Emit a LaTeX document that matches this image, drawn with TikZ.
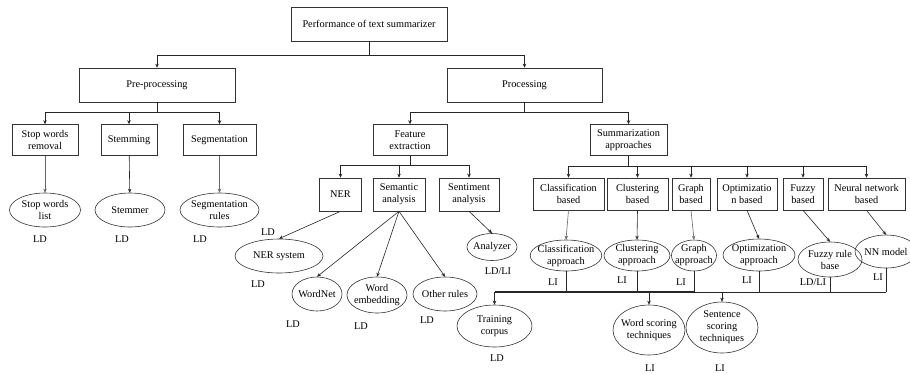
\documentclass[tikz,border=0pt]{standalone}
\usepackage{fontspec}
\setmainfont{Liberation Serif}
\usetikzlibrary{arrows.meta,shapes.geometric}
\tikzset{
  every node/.style={font=\fontsize{10.3}{12}\selectfont, align=center},
  box/.style={draw=black!80, rectangle, inner xsep=3pt, inner ysep=1pt, minimum height=31pt},
  oval/.style={draw=black!80, ellipse, inner xsep=-3pt, inner ysep=0pt},
  lbl/.style={inner sep=0pt},
  arr/.style={-{Stealth[length=4pt,width=3.5pt]}},
  bus/.style={line width=0.6pt, draw=black!85},
}
\begin{document}
\begin{tikzpicture}[x=1pt,y=-1pt, line width=0.6pt, draw=black!85]
				%%%%% START %%%%%
				\useasboundingbox (0,0) rectangle (910,373);
				
				% top levels
				\node[box, minimum width=156pt, minimum height=34pt] (root) at (369,24) {Performance of text summarizer};
				\node[box, minimum width=156pt, minimum height=34pt] (pre) at (157,85) {Pre-processing};
				\node[box, minimum width=155pt, minimum height=34pt] (proc) at (524.5,85) {Processing};
				
				\coordinate (b0) at (369,55);
				\draw (root) -- (b0);
				\draw[arr] (b0) -| (pre);
				\draw[arr] (b0) -| (proc);
				
				% pre-processing
				\node[box, minimum width=66pt] (stopw) at (45,140) {Stop words\\removal};
				\node[box, minimum width=56pt] (stem) at (129,140) {Stemming};
				\node[box, minimum width=73pt] (segm) at (219.5,140) {Segmentation};
				
				\coordinate (b1) at (157,112);
				\draw (pre) -- (b1);
				\draw[arr] (b1) -| (stopw);
				\draw[arr] (b1) -| (stem);
				\draw[arr] (b1) -| (segm);
				
				\node[oval, minimum width=71pt, minimum height=34pt] (stopl) at (45,210) {Stop words\\list};
				\node[oval, minimum width=70pt, minimum height=34pt] (stemr) at (130,210) {Stemmer};
				\node[oval, minimum width=79pt, minimum height=34pt] (segr) at (219.5,210) {Segmentation\\rules};
				\draw[arr, draw=black!60] (stopw) -- (stopl);
				\draw[arr] (stem) -- (stemr);
				\draw[arr, draw=black!60] (segm) -- (segr);
				
				\node[lbl] (ldstop) at (40,239) {LD};
				\node[lbl] (ldstem) at (122,239) {LD};
				\node[lbl] (ldseg) at (200,239) {LD};
				
				% processing
				\node[box, minimum width=74pt] (feat) at (410,140) {Feature\\extraction};
				\node[box, minimum width=77pt] (summ) at (628.5,140) {Summarization\\approaches};
				
				\coordinate (b2) at (524.5,112);
				\draw (proc) -- (b2);
				\draw[arr] (b2) -| (feat);
				\draw[arr] (b2) -| (summ);
				
				% feature extraction
				\node[box, minimum width=42pt, minimum height=33pt] (ner) at (340.5,194.5) {NER};
				\node[box, minimum width=52pt, minimum height=33pt] (sem) at (399,194.5) {Semantic\\analysis};
				\node[box, minimum width=60pt, minimum height=33pt] (sent) at (469,194.5) {Sentiment\\analysis};
				
				\coordinate (b3) at (410,165);
				\draw (feat) -- (b3);
				\draw[arr] (b3) -| (ner);
				\draw[arr] (b3) -| (sem);
				\draw[arr] (b3) -| (sent);
				
				\node[oval, minimum width=88pt, minimum height=34pt] (nersys) at (279,256) {NER system};
				\node[oval, minimum width=50pt, minimum height=34pt] (wnet) at (317,294) {WordNet};
				\node[oval, minimum width=60pt, minimum height=36pt] (wemb) at (377,295) {Word\\embedding};
				\node[oval, minimum width=64pt, minimum height=34pt] (othr) at (445,294) {Other rules};
				\node[oval, minimum width=50pt, minimum height=27pt] (anlz) at (492,247) {Analyzer};
				
				\draw[arr] (ner.south) -- (nersys.north);
				\draw[arr] (sem.south) -- (wnet.north);
				\draw[arr] (sem.south) -- (wemb.north);
				\draw[arr] (sem.south) -- (othr.north);
				\draw[arr] (sent.south) -- (anlz.north);
				
				\node[lbl] (ldner1) at (268,232) {LD};
				\node[lbl] (ldner2) at (258,284) {LD};
				\node[lbl] (ldwnet) at (293,324) {LD};
				\node[lbl] (ldwemb) at (361,326) {LD};
				\node[lbl] (ldothr) at (427,320) {LD};
				\node[lbl] (ldanlz) at (498,271) {LD/LI};
				
				% summarization approaches
				\node[box, minimum width=71pt, minimum height=32pt] (cls) at (568.5,194) {Classification\\based};
				\node[box, minimum width=61pt, minimum height=32pt] (clu) at (637.5,194) {Clustering\\based};
				\node[box, minimum width=38pt, minimum height=32pt] (grb) at (691,194) {Graph\\based};
				\node[box, minimum width=60pt, minimum height=32pt] (opt) at (747,194) {Optimizatio\\n based};
				\node[box, minimum width=40pt, minimum height=32pt] (fuz) at (803,194) {Fuzzy\\based};
				\node[box, minimum width=77pt, minimum height=32pt] (nnb) at (866.5,194) {Neural network\\based};
				
				\coordinate (b4) at (628.5,166);
				\draw (summ) -- (b4);
				\foreach \n in {cls,clu,grb,opt,fuz,nnb}
					\draw[arr] (b4) -| (\n);
				
				\node[oval, minimum width=66pt, minimum height=31pt] (clsap) at (566,255.5) {Classification\\approach};
				\node[oval, minimum width=66pt, minimum height=31pt] (cluap) at (637,255.5) {Clustering\\approach};
				\node[oval, minimum width=45pt, minimum height=31pt] (grap) at (694,255.5) {Graph\\approach};
				\node[oval, minimum width=72pt, minimum height=32pt] (optap) at (759,255) {Optimization\\approach};
				\node[oval, minimum width=64pt, minimum height=35pt] (fuzr) at (830,259.5) {Fuzzy rule\\base};
				\node[oval, minimum width=62pt, minimum height=33pt] (nnm) at (886,251.5) {NN model};
				
				\draw[arr, draw=black!60] (cls.south) -- (clsap.north);
				\draw[arr] (clu.south) -- (cluap.north);
				\draw[arr, draw=black!60] (grb.south) -- (grap.north);
				\draw[arr] (opt.south) -- (optap.north);
				\draw[arr] (fuz.south) -- (fuzr.north);
				\draw[arr] (nnb.south) -- (nnm.north);
				
				\node[lbl] (liclsap) at (553,282) {LI};
				\node[lbl] (licluap) at (622,280) {LI};
				\node[lbl] (ligrap) at (681,282) {LI};
				\node[lbl] (lioptap) at (747,280) {LI};
				\node[lbl] (lifuzr) at (813,282) {LD/LI};
				\node[lbl] (linnm) at (878,277) {LI};
				
				% shared resources
				\node[oval, minimum width=75pt, minimum height=42pt] (train) at (494.5,326) {Training\\corpus};
				\node[oval, minimum width=72pt, minimum height=50pt] (wscr) at (649,330) {Word scoring\\techniques};
				\node[oval, minimum width=72pt, minimum height=51pt] (sscr) at (722,327.5) {Sentence\\scoring\\techniques};
				
				\coordinate (b5) at (0,292);
				\foreach \n in {clsap,cluap,grap,optap,fuzr,nnm}
					\draw (\n.south) -- (\n.south |- b5);
				\draw[line width=1.2pt] (train.north |- b5) -- (grap.south |- b5);
				\draw (grap.south |- b5) -- (nnm.south |- b5);
				\draw[arr] (train.north |- b5) -- (train.north);
				\draw[arr] (wscr.north |- b5) -- (wscr.north);
				\draw[arr] (sscr.north |- b5) -- (sscr.north);
				
				\node[lbl] (ldtrain) at (497,358) {LD};
				\node[lbl] (liwscr) at (650,368) {LI};
				\node[lbl] (lisscr) at (720,368) {LI};
				%%%%% END %%%%%
\end{tikzpicture}
\end{document}
